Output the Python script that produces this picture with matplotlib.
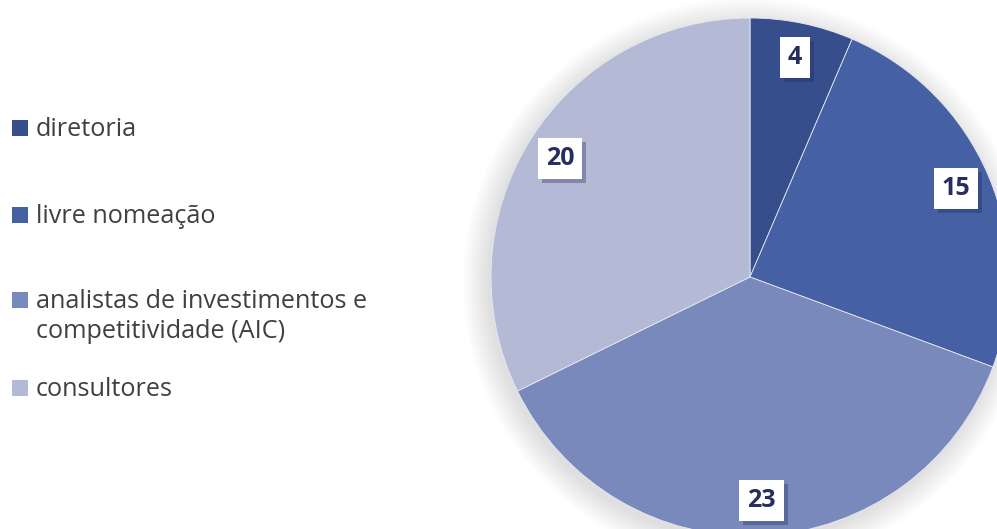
import matplotlib.pyplot as plt
import matplotlib.patheffects as pe
from matplotlib.patches import Rectangle, Circle

# data
categories = ["diretoria", "livre nomeação",
              "analistas de investimentos e\ncompetitividade (AIC)", "consultores"]
values = [4, 15, 23, 20]
colors = ["#374E8C", "#4560A3", "#7A89BB", "#B4BAD6"]

plt.rcParams["font.family"] = ["Open Sans", "DejaVu Sans"]

W, H = 997, 529
fig = plt.figure(figsize=(W / 100, H / 100), dpi=100)

# pie axes placed in pixel terms: centre (750, 277), radius 259
cx, cy, r = 750, 277, 259
ax = fig.add_axes([(cx - r) / W, (H - cy - r) / H, 2 * r / W, 2 * r / H])
ax.axis("off")

# soft shadow around the pie
for i in range(16):
    ax.add_patch(Circle((-0.012, -0.02), 1.0 + i * 0.0065, color="black",
                        alpha=0.009, lw=0, zorder=0, clip_on=False))

wedges, texts, autotexts = ax.pie(
    values, colors=colors, startangle=90, counterclock=False, radius=1,
    autopct=lambda p: f"{round(p * sum(values) / 100):d}", pctdistance=0.865,
    wedgeprops=dict(linewidth=0.6, edgecolor="#E6E8F2"),
)
ax.set_xlim(-1, 1)
ax.set_ylim(-1, 1)
ax.set_aspect("equal")

for t in autotexts:
    t.set_fontsize(18)
    t.set_fontweight("bold")
    t.set_color("#262E5E")
    t.set_bbox(dict(boxstyle="square,pad=0.32", facecolor="white", edgecolor="none"))
    t.get_bbox_patch().set_path_effects(
        [pe.SimplePatchShadow(offset=(3, -3), shadow_rgbFace="#1F2A5A", alpha=0.35),
         pe.Normal()])

# legend drawn by hand (uneven spacing in the reference)
legend_y = [128, 215, 300, 388]
line_gap = 30
for lab, col, y in zip(categories, colors, legend_y):
    fig.patches.append(Rectangle((12 / W, (H - y - 8) / H), 16 / W, 16 / H,
                                 transform=fig.transFigure, facecolor=col,
                                 edgecolor="none"))
    for k, line in enumerate(lab.split("\n")):
        # baseline sits on the bottom edge of the square
        fig.text(36 / W, (H - y - 8 - k * line_gap) / H, line, fontsize=18.2,
                 color="#404040", va="baseline", ha="left")

fig.savefig("out.png", dpi=100)
